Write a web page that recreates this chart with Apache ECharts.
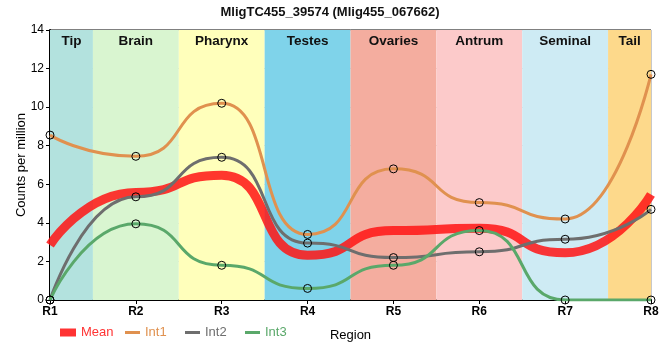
<!DOCTYPE html>
<html><head><meta charset="utf-8">
<script src="https://cdn.jsdelivr.net/npm/echarts@6/dist/echarts.min.js"></script>
<style>html,body{margin:0;padding:0;background:#fff}#c{width:660px;height:360px}</style>
</head><body><div id="c"></div>
<script>
const categories = ['R1','R2','R3','R4','R5','R6','R7','R8'];
const meanValues = [2.85, 5.58, 6.47, 2.32, 3.6, 3.72, 2.45, 5.47];
const int1Values = [8.55, 7.45, 10.2, 3.4, 6.8, 5.05, 4.2, 11.7];
const int2Values = [0, 5.35, 7.4, 2.95, 2.2, 2.5, 3.15, 4.7];
const int3Values = [0, 3.95, 1.8, 0.6, 1.8, 3.6, 0, 0];
const bandNames = ['Tip','Brain','Pharynx','Testes','Ovaries','Antrum','Seminal','Tail'];
const bandColors = ['#b3e2de','#d9f5d0','#ffffbb','#7fd3ea','#f4ad9f','#fccaca','#ceebf4','#fdd98b'];
const yTicks = {min: 0, max: 14, interval: 2};

const last = categories.length - 1;
const bands = bandNames.map((n, i) => [
  {name: n, xAxis: Math.max(0, i - 0.5), yAxis: yTicks.min, itemStyle: {color: bandColors[i]}},
  {xAxis: Math.min(last, i + 0.5), yAxis: yTicks.max}
]);

const marker = {color: 'rgba(0,0,0,0)', borderColor: '#000', borderWidth: 1};
function intSeries(name, data, color) {
  return {name, type: 'line', data, smooth: 0.6, smoothMonotone: 'x',
    symbol: 'circle', symbolSize: 8, itemStyle: marker,
    lineStyle: {color, width: 3}, z: 3, emphasis: {disabled: true}};
}
const chart = echarts.init(document.getElementById('c'), null, {renderer: 'canvas'});
const legendBase = (left, name, color, w, h) => ({
  left, top: 321, icon: 'rect', itemWidth: w, itemHeight: h, itemGap: 4,
  textStyle: {fontSize: 13, color, fontFamily: 'Liberation Sans'},
  data: [{name, itemStyle: {color, borderWidth: 0, borderColor: color}}], selectedMode: false
});
chart.setOption({
  animation: false,
  title: {text: 'MligTC455_39574 (Mlig455_067662)', left: 'center', top: 1,
    textStyle: {fontSize: 13, fontWeight: 'bold', color: '#111', fontFamily: 'Liberation Sans'}},
  grid: {left: 50, right: 9, top: 30, bottom: 60, show: true, borderColor: '#000', borderWidth: 1,
    backgroundColor: 'transparent', outerBoundsMode: 'none', containLabel: false},
  legend: [
    legendBase(55, 'Mean', '#ff3333', 16, 8),
    legendBase(120, 'Int1', '#e0914f', 15, 3),
    legendBase(180, 'Int2', '#6e6e6e', 15, 3),
    legendBase(240, 'Int3', '#5aa86a', 15, 3)
  ],
  xAxis: [{
    type: 'category', data: categories, boundaryGap: false,
    name: 'Region', nameLocation: 'middle', nameGap: 29, nameMoveOverlap: false,
    nameTextStyle: {fontSize: 13, color: '#000', fontFamily: 'Liberation Sans'},
    axisLine: {lineStyle: {color: '#000', width: 2}},
    axisTick: {show: true, length: 4, lineStyle: {color: '#000'}},
    axisLabel: {fontSize: 12, fontWeight: 'bold', color: '#000', margin: 6, fontFamily: 'Liberation Sans'},
    splitLine: {show: true, lineStyle: {color: '#c8c8c8', width: 1}}
  }, {
    type: 'value', min: 0, max: last, show: false
  }],
  yAxis: {
    type: 'value', min: yTicks.min, max: yTicks.max, interval: yTicks.interval,
    name: 'Counts per million', nameLocation: 'middle', nameGap: 29, nameRotate: 90, nameMoveOverlap: false,
    nameTextStyle: {fontSize: 13, color: '#000', fontFamily: 'Liberation Sans', verticalAlign: 'middle'},
    axisLine: {show: true, lineStyle: {color: '#000', width: 2}},
    axisTick: {show: true, length: 4, lineStyle: {color: '#000'}},
    axisLabel: {fontSize: 12, color: '#000', margin: 6, fontFamily: 'Liberation Sans'},
    splitLine: {show: true, lineStyle: {color: '#c8c8c8', width: 1}}
  },
  series: [
    {type: 'line', xAxisIndex: 1, data: [], z: -1, silent: true,
      markArea: {silent: true, data: bands,
        label: {show: true, position: 'insideTop', distance: 4, fontSize: 13.5, fontWeight: 'bold', color: '#111', fontFamily: 'Liberation Sans'}}},
    {name: 'Mean', type: 'line', data: meanValues, smooth: 0.6, smoothMonotone: 'x', showSymbol: false,
      symbol: 'none', lineStyle: {color: 'rgba(255,20,20,0.85)', width: 9}, z: 2, emphasis: {disabled: true}},
    intSeries('Int1', int1Values, '#e0914f'),
    intSeries('Int2', int2Values, '#6e6e6e'),
    intSeries('Int3', int3Values, '#5aa86a')
  ]
});
</script></body></html>
